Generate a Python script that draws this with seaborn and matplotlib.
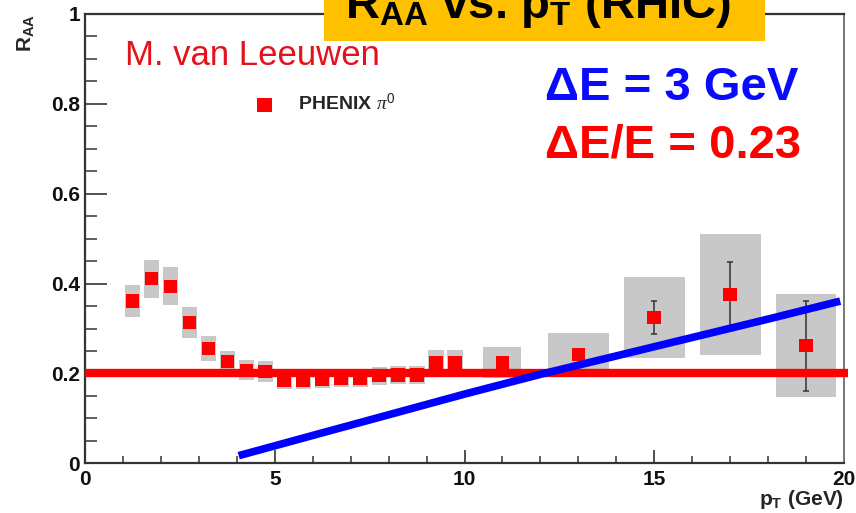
import numpy as np
import pandas as pd
import seaborn as sns
import matplotlib
matplotlib.use("Agg")
import matplotlib.pyplot as plt
from matplotlib.patches import Rectangle
from matplotlib.ticker import MultipleLocator, FixedLocator

# ---------------- data ----------------
pt = [1.25, 1.75, 2.25, 2.75, 3.25, 3.75, 4.25, 4.75, 5.25, 5.75, 6.25, 6.75,
      7.25, 7.75, 8.25, 8.75, 9.25, 9.75, 11.0, 13.0, 15.0, 17.0, 19.0]
raa = [0.361, 0.411, 0.394, 0.313, 0.256, 0.227, 0.207, 0.204, 0.185, 0.185,
       0.187, 0.190, 0.190, 0.195, 0.197, 0.196, 0.224, 0.224, 0.224, 0.242,
       0.324, 0.376, 0.262]
sys_err = [0.035, 0.042, 0.042, 0.035, 0.028, 0.022, 0.022, 0.023, 0.020, 0.020,
           0.020, 0.020, 0.020, 0.020, 0.020, 0.020, 0.028, 0.028, 0.035, 0.047,
           0.090, 0.135, 0.115]
bin_width = [0.4, 0.4, 0.4, 0.4, 0.4, 0.4, 0.4, 0.4, 0.4, 0.4, 0.4, 0.4,
             0.4, 0.4, 0.4, 0.4, 0.4, 0.4, 1.0, 1.6, 1.6, 1.6, 1.6]
stat_err = [0, 0, 0, 0, 0, 0, 0, 0, 0, 0, 0, 0,
            0, 0, 0, 0, 0, 0, 0, 0, 0.037, 0.072, 0.100]

# constant fractional energy loss  (dE/E = 0.23)
frac_loss_raa = 0.2
# constant absolute energy loss  (dE = 3 GeV)
eloss_pt = [4.05, 6.0, 8.0, 10.0, 12.0, 14.0, 16.0, 18.0, 19.9]
eloss_raa = [0.017, 0.062, 0.108, 0.154, 0.198, 0.239, 0.280, 0.321, 0.361]

y_ticks = [0, 0.2, 0.4, 0.6, 0.8, 1.0]
y_tick_labels = ["0", "0.2", "0.4", "0.6", "0.8", "1"]
x_ticks = [0, 5, 10, 15, 20]
x_tick_labels = ["0", "5", "10", "15", "20"]

df = pd.DataFrame({"pt": pt, "raa": raa, "sys": sys_err, "w": bin_width, "stat": stat_err})
df_loss = pd.DataFrame({"pt": eloss_pt, "raa": eloss_raa})

# ---------------- style ----------------
sns.set_theme(style="ticks")
plt.rcParams["font.family"] = ["Liberation Sans", "DejaVu Sans"]
plt.rcParams["mathtext.fontset"] = "custom"
plt.rcParams["mathtext.rm"] = "Liberation Sans"
plt.rcParams["mathtext.bf"] = "Liberation Sans:bold"
plt.rcParams["mathtext.it"] = "Liberation Serif:italic"

fig = plt.figure(figsize=(8.56, 5.13), dpi=100)
ax = fig.add_axes([85 / 856, 49.7 / 513, 759 / 856, 449.3 / 513])
ax.set_facecolor("white")

# systematic boxes
ax.bar(df["pt"], 2 * df["sys"], bottom=df["raa"] - df["sys"], width=df["w"],
       color="#c8c8c8", edgecolor="none", zorder=1)

# statistical error bars
st = df[df["stat"] > 0]
ax.errorbar(st["pt"], st["raa"], yerr=st["stat"], fmt="none", ecolor="#333333",
            elinewidth=1.1, capsize=2, capthick=1.1, zorder=2)

# dE/E line
ax.axhline(frac_loss_raa, xmin=0, xmax=1.005, color="#ff0000", lw=6,
           clip_on=False, zorder=3, solid_capstyle="butt")

# PHENIX points
sns.scatterplot(data=df, x="pt", y="raa", marker="s", s=95, color="#ff0000",
                edgecolor="none", linewidth=0, ax=ax, zorder=4,
                label=r"PHENIX $\pi^0$")

# dE line
sns.lineplot(data=df_loss, x="pt", y="raa", color="#0000ff", lw=5.5, ax=ax,
             zorder=5, solid_capstyle="butt")

ax.set_xlim(0, 20)
ax.set_ylim(0, 1)

ax.xaxis.set_major_locator(FixedLocator(x_ticks))
ax.set_xticklabels(x_tick_labels)
ax.yaxis.set_major_locator(FixedLocator(y_ticks))
ax.set_yticklabels(y_tick_labels)
ax.xaxis.set_minor_locator(MultipleLocator(1))
ax.yaxis.set_minor_locator(MultipleLocator(0.05))

ax.tick_params(axis="both", which="both", direction="in", color="#333333")
ax.tick_params(axis="y", which="major", length=15.8, width=1.2, pad=3.6)
ax.tick_params(axis="y", which="minor", length=8.4, width=1.1)
ax.tick_params(axis="x", which="major", length=9.4, width=1.2, pad=5)
ax.tick_params(axis="x", which="minor", length=5, width=1.1)
for lab in ax.get_xticklabels() + ax.get_yticklabels():
    lab.set_fontsize(15)
    lab.set_fontweight("bold")
    lab.set_color("#111111")

for side in ["left", "bottom", "top"]:
    ax.spines[side].set_color("#333333")
    ax.spines[side].set_linewidth(1.6)
ax.spines["right"].set_color("#777777")
ax.spines["right"].set_linewidth(1.4)

ax.set_xlabel(r"$\mathbf{p_T}$ (GeV)", fontsize=15, fontweight="bold", loc="right")
ax.xaxis.set_label_coords(1.0, -0.054)
ax.set_ylabel(r"$\mathbf{R_{AA}}$", fontsize=15, fontweight="bold", loc="top")
ax.yaxis.set_label_coords(-0.063, 1.0)

leg = ax.legend(loc="center left", bbox_to_anchor=(0.2237, 0.8008), frameon=False,
                handlelength=1.0, handletextpad=1.2, borderpad=0, borderaxespad=0,
                markerscale=1.1, prop={"weight": "bold", "size": 14})

# annotations
ax.text(125 / 856, 1 - 65 / 513, "M. van Leeuwen", transform=fig.transFigure,
        fontsize=25, color="#e3121b", ha="left", va="baseline")
fig.text(545 / 856, 1 - 100 / 513, "ΔE = 3 GeV", fontsize=34, fontweight="bold",
         color="#0a0aff", ha="left", va="baseline")
fig.text(545 / 856, 1 - 157 / 513, "ΔE/E = 0.23", fontsize=34, fontweight="bold",
         color="#ff0000", ha="left", va="baseline")

# title banner (cut at the top edge, as in the reference)
fig.patches.append(Rectangle((324 / 856, 1 - 40.7 / 513), 441 / 856, 0.2,
                             transform=fig.transFigure, facecolor="#ffc000",
                             edgecolor="none", zorder=10))
fig.text(345 / 856, 1 - 18 / 513, r"$\mathbf{R_{AA}}$ vs. $\mathbf{p_T}$ (RHIC)",
         fontsize=34, fontweight="bold", color="black", ha="left", va="baseline",
         zorder=11)

fig.savefig("out.png", dpi=100, facecolor="white")
